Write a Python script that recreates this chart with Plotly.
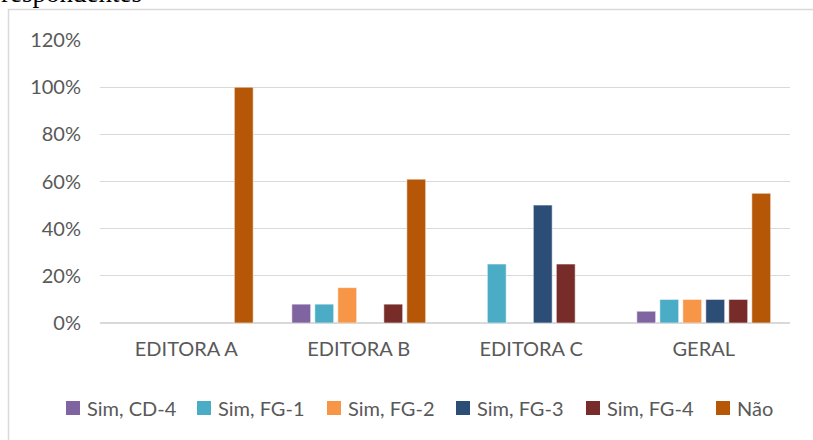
import plotly.graph_objects as go

# Categories and response shares per group (None = no answer in that group)
categories = ["EDITORA A", "EDITORA B", "EDITORA C", "GERAL"]
series_names = ["Sim, CD-4", "Sim, FG-1", "Sim, FG-2", "Sim, FG-3", "Sim, FG-4", "Não"]
sim_cd4 = [None, 0.08, None, 0.05]
sim_fg1 = [None, 0.08, 0.25, 0.10]
sim_fg2 = [None, 0.15, None, 0.10]
sim_fg3 = [None, None, 0.50, 0.10]
sim_fg4 = [None, 0.08, 0.25, 0.10]
nao = [1.00, 0.61, None, 0.55]
y_ticks = [0, 0.2, 0.4, 0.6, 0.8, 1.0, 1.2]

colors = ["#8064A2", "#4BACC6", "#F79646", "#2C4D75", "#772C2A", "#B65708"]
series_values = [sim_cd4, sim_fg1, sim_fg2, sim_fg3, sim_fg4, nao]

W, H = 813, 440
L, R, T, B = 100, 23, 40, 117
plot_w, plot_h = W - L - R, H - T - B

FONT = "Lato, 'Open Sans', sans-serif"
TEXT_COLOR = "#595959"
GRID = "#d9d9d9"

fig = go.Figure()
for name, vals, col in zip(series_names, series_values, colors):
    fig.add_trace(go.Bar(
        x=categories, y=vals, name=name,
        marker=dict(color=col, line=dict(color="rgba(255,255,255,0.55)", width=1)),
        showlegend=False,
    ))


def px_x(px):
    return (px - L) / plot_w


def px_y(py):
    return (H - B - py) / plot_h


shapes = []
annotations = []

# Outer chart frame
shapes.append(dict(type="rect", xref="paper", yref="paper",
                   x0=px_x(8.5), x1=px_x(W + 20), y0=px_y(9.5), y1=px_y(H + 20),
                   line=dict(color=GRID, width=1.5), fillcolor="rgba(0,0,0,0)", layer="below"))

# Legend row: colour square followed by its label
legend_left = [66, 197, 327, 456, 586, 716]
legend_cy = 408
sq = 14
for left, name, col in zip(legend_left, series_names, colors):
    shapes.append(dict(type="rect", xref="paper", yref="paper",
                       x0=px_x(left), x1=px_x(left + sq),
                       y0=px_y(legend_cy - sq / 2), y1=px_y(legend_cy + sq / 2),
                       line=dict(width=0), fillcolor=col))
    annotations.append(dict(xref="paper", yref="paper", x=px_x(left + sq + 5), y=px_y(legend_cy),
                            text=name, showarrow=False, xanchor="left", yanchor="middle",
                            font=dict(family=FONT, size=20, color=TEXT_COLOR)))

# Caption line running above the chart frame
annotations.append(dict(xref="paper", yref="paper", x=px_x(-1), y=px_y(10),
                        text="respondentes", showarrow=False, xanchor="left", yanchor="bottom",
                        font=dict(family="'Liberation Serif', 'Times New Roman', serif", size=27, color="#000000")))

fig.update_layout(
    width=W, height=H,
    margin=dict(l=L, r=R, t=T, b=B, pad=0),
    paper_bgcolor="white", plot_bgcolor="white",
    barmode="group", bargap=0.2, bargroupgap=0.18,
    shapes=shapes, annotations=annotations,
    showlegend=False,
)
fig.update_xaxes(
    showgrid=False, showline=False, ticks="",
    tickfont=dict(family=FONT, size=20, color=TEXT_COLOR),
    ticklabelstandoff=12,
)
fig.update_yaxes(
    range=[0, 1.2], tickvals=y_ticks, tickformat=".0%",
    showgrid=True, gridcolor=GRID, gridwidth=1,
    zeroline=True, zerolinecolor=GRID, zerolinewidth=2,
    showline=False, ticks="",
    tickfont=dict(family=FONT, size=20, color=TEXT_COLOR),
    ticklabelstandoff=18,
)

fig.write_html("out.html")
